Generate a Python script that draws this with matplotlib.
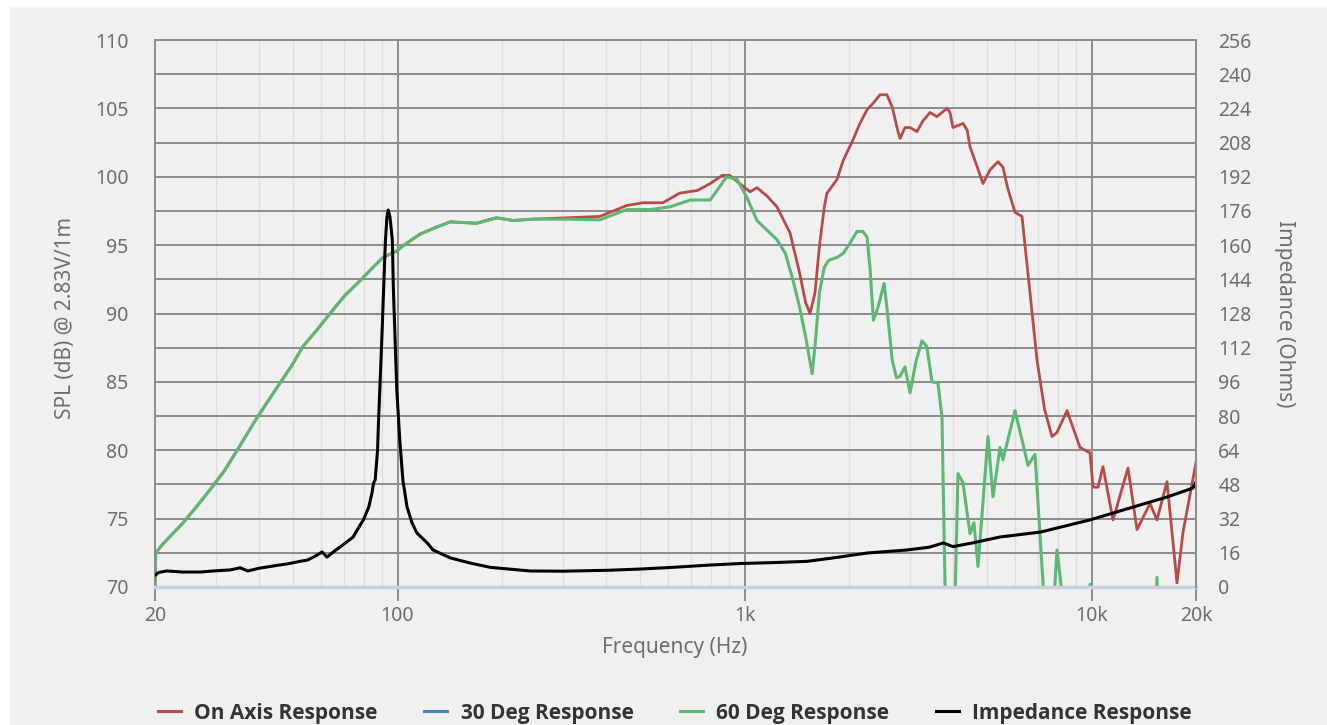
import matplotlib
matplotlib.use('Agg')
import matplotlib.pyplot as plt
from matplotlib.patches import Rectangle
from matplotlib.lines import Line2D
from matplotlib.font_manager import FontProperties
from matplotlib.ticker import FixedLocator, MultipleLocator, LogLocator, NullFormatter

plt.rcParams['font.family'] = ['Noto Sans', 'DejaVu Sans']

# Below ~250 Hz on-axis and 60 deg responses coincide (dB)
low_freq = [20, 20.1, 21.0, 24.1, 26.4, 29.2, 31.7, 34.5, 39.4, 45.8, 49.6, 53.4, 58.6, 63.9,
            70.4, 78, 84.4, 90.8, 100, 103, 116, 129, 142, 169, 193, 215, 245]
low_db = [70.0, 72.5, 73.1, 74.7, 75.9, 77.3, 78.5, 80.0, 82.4, 84.9, 86.2, 87.6, 88.8, 90.0,
          91.3, 92.4, 93.3, 94.1, 94.6, 94.9, 95.8, 96.3, 96.7, 96.6, 97.0, 96.8, 96.9]

# 60 degree response above 250 Hz (dB), values below 70 are clipped by the axis
deg60_hi_freq = [309, 383, 458, 534, 610, 698, 796, 850, 887, 952,
                 1015, 1086, 1160, 1240, 1311, 1380, 1440, 1500, 1566, 1596, 1643, 1698, 1750,
                 1847, 1925, 2020, 2108, 2193, 2254, 2298, 2352, 2428, 2524, 2571, 2664,
                 2740, 2806, 2900, 2998, 3120, 3246, 3350, 3470, 3610, 3707,
                 3780, 3830, 3988, 4050, 4122, 4262, 4464, 4583, 4708, 5030, 5200, 5448, 5556,
                 6018, 6560, 6872, 7246, 7400, 7750, 7950, 8274, 8400, 9700, 9900, 10100,
                 15100, 15438, 15700, 20000]
deg60_hi_db = [96.9, 96.85, 97.6, 97.6, 97.8, 98.3, 98.3, 99.3, 100.0, 99.8,
               98.5, 96.8, 96.1, 95.4, 94.4, 92.4, 90.5, 88.3, 85.6, 87.6, 91.5, 93.4, 93.9,
               94.1, 94.4, 95.2, 96.0, 96.0, 95.6, 93.4, 89.5, 90.5, 92.2, 90.5, 86.6,
               85.3, 85.4, 86.1, 84.2, 86.5, 88.0, 87.6, 85.0, 84.9, 82.4,
               70.5, 65.0, 65.0, 70.0, 78.3, 77.6, 73.9, 74.7, 71.5, 81.0, 76.6, 80.2, 79.3,
               82.9, 78.9, 79.7, 70.3, 65.0, 68.0, 72.7, 69.0, 65.0, 65.0, 70.2, 65.0,
               65.0, 70.7, 65.0, 65.0]

# On axis response above 250 Hz (dB)
onaxis_hi_freq = [309, 383, 458, 510, 582, 650, 732, 796, 862, 906,
                  990, 1038, 1086, 1160, 1240, 1352, 1440, 1500, 1544, 1596, 1643, 1698, 1727,
                  1847, 1925, 2054, 2150, 2254, 2352, 2457, 2571, 2664, 2762, 2806, 2900, 2998,
                  3140, 3268, 3424, 3586, 3832, 3908, 3988, 4262, 4382, 4464, 4686, 4866, 5096,
                  5376, 5556, 5728, 6018, 6303, 6964, 7320, 7692, 7950, 8497, 8830, 9264, 9898,
                  10100, 10438, 10790, 11532, 12736, 13522, 14738, 15438, 16496, 17630, 18346, 20000]
onaxis_hi_db = [97.0, 97.1, 97.9, 98.1, 98.1, 98.8, 99.0, 99.5, 100.1, 100.1,
                99.3, 98.9, 99.2, 98.6, 97.8, 95.9, 93.0, 90.8, 90.0, 91.5, 94.9, 97.8, 98.8,
                99.8, 101.2, 102.7, 103.9, 104.9, 105.4, 106.0, 106.0, 105.1, 103.4, 102.8, 103.6, 103.6,
                103.3, 104.1, 104.7, 104.4, 105.0, 104.7, 103.6, 103.9, 103.4, 102.2, 100.7, 99.5, 100.5,
                101.1, 100.7, 99.2, 97.4, 97.1, 86.6, 83.0, 81.0, 81.3, 82.9, 81.7, 80.2, 79.8,
                77.3, 77.3, 78.8, 74.9, 78.7, 74.2, 76.1, 74.9, 77.7, 70.3, 74.0, 79.1]

# 30 degree response: listed in the legend, no curve shown
deg30_freq = []
deg30_db = []

# Impedance (Ohms)
imp_freq = [20, 20.5, 21.6, 24, 27, 30, 33, 35.2, 37, 40, 43.7, 48.9, 52.3, 55, 58, 60.6, 62.6,
            66, 68.3, 74.5, 77.1, 79.7, 82.6, 84.4, 85.3, 86.2, 87.6, 88.1, 89.2, 90.3, 91.3,
            92.3, 93.2, 94.0, 95.1, 96.6, 97.3, 98.4, 99.5, 101.5, 103.6, 106.5, 110.1,
            113.7, 121.8, 126.6, 142, 162, 185, 241, 300, 400, 500, 622, 800, 975, 1200, 1512, 1800,
            2254, 2932, 3400, 3742, 3988, 4500, 5448, 7120, 9898, 13160, 16496, 19600, 20000]
imp_ohm = [5.5, 6.8, 7.5, 7.0, 7.0, 7.6, 8.0, 9.0, 7.5, 8.8, 9.8, 11.0, 12.0, 12.6, 14.5, 16.4, 14.0,
           17.0, 18.7, 23.4, 27.6, 31.4, 37.4, 44.0, 48.7, 50.1, 64.1, 76.8, 98.3, 120.3, 142.3,
           162.4, 173.2, 176.4, 173.2, 162.4, 139.0, 115.6, 92.2, 68.8, 50.1, 37.4, 30.0,
           25.3, 20.6, 17.3, 13.6, 11.2, 9.2, 7.5, 7.4, 7.8, 8.4, 9.2, 10.3, 11.0, 11.4, 12.0, 13.6,
           15.9, 17.3, 18.6, 20.6, 18.9, 20.5, 23.4, 25.7, 31.4, 37.4, 42.1, 46.3, 49.1]

xtick_vals = [20, 100, 1000, 10000, 20000]
xtick_text = ['20', '100', '1k', '10k', '20k']

BG = '#f0f0f0'
GRID = '#8c8c8c'
TXT = '#6e6e6e'
RED = '#b84a48'
BLUE = '#4f81bd'
GREEN = '#5cb874'

fig = plt.figure(figsize=(13.27, 7.25), dpi=100)
fig.patch.set_facecolor('white')
fig.add_artist(Rectangle((10 / 1327, 0), 1, 1 - 7 / 725, transform=fig.transFigure,
                         facecolor=BG, edgecolor='none', zorder=-10))

ax = fig.add_axes([155 / 1327, 1 - 587 / 725, (1196 - 155) / 1327, (587 - 40) / 725])
ax.set_facecolor(BG)
ax.set_xscale('log')
ax.set_xlim(20, 20000)
ax.set_ylim(70, 110)

ax.plot(low_freq + onaxis_hi_freq, low_db + onaxis_hi_db, color=RED, lw=2.0,
        solid_joinstyle='round')
ax.plot(deg30_freq, deg30_db, color=BLUE, lw=2.0)
ax.plot(low_freq + deg60_hi_freq, low_db + deg60_hi_db, color=GREEN, lw=2.2,
        solid_joinstyle='round')

ax.xaxis.set_major_locator(FixedLocator(xtick_vals))
ax.set_xticklabels(xtick_text)
ax.xaxis.set_minor_locator(LogLocator(base=10, subs=range(2, 10)))
ax.xaxis.set_minor_formatter(NullFormatter())
ax.yaxis.set_major_locator(MultipleLocator(5))
ax.yaxis.set_minor_locator(MultipleLocator(2.5))

ax.grid(which='major', axis='x', color=GRID, lw=1.4)
ax.grid(which='minor', axis='x', color='#dedede', lw=1.0)
ax.grid(which='both', axis='y', color=GRID, lw=1.4)

ax.tick_params(axis='x', which='major', length=10, width=1.4, color=GRID,
               labelsize=14, labelcolor=TXT, pad=4)
ax.tick_params(axis='both', which='minor', length=0)
ax.tick_params(axis='y', which='major', length=0, labelsize=14, labelcolor=TXT, pad=19)

for side in ['left', 'top']:
    ax.spines[side].set_color(GRID)
    ax.spines[side].set_linewidth(1.4)
ax.spines['right'].set_visible(False)
ax.spines['bottom'].set_color('#c9d1df')
ax.spines['bottom'].set_linewidth(2.5)

ax2 = ax.twinx()
ax2.set_ylim(0, 256)
ax2.set_yticks(range(0, 257, 16))
ax2.plot(imp_freq, imp_ohm, color='black', lw=2.2, solid_joinstyle='round')
ax2.tick_params(axis='y', length=0, labelsize=14, labelcolor=TXT, pad=16)
for side in ['left', 'top', 'bottom']:
    ax2.spines[side].set_visible(False)
ax2.spines['right'].set_color(GRID)
ax2.spines['right'].set_linewidth(1.4)

fig.text(65 / 1327, 1 - 318 / 725, 'SPL (dB) @ 2.83V/1m', rotation=90,
         ha='center', va='center', fontsize=15, color=TXT)
fig.text(1285 / 1327, 1 - 314 / 725, 'Impedance (Ohms)', rotation=270,
         ha='center', va='center', fontsize=15, color=TXT)
fig.text(675 / 1327, 1 - 648 / 725, 'Frequency (Hz)',
         ha='center', va='center', fontsize=15, color=TXT)

handles = [Line2D([], [], color=RED, lw=2.2), Line2D([], [], color=BLUE, lw=2.2),
           Line2D([], [], color=GREEN, lw=2.2), Line2D([], [], color='black', lw=2.2)]
labels = ['On Axis Response', '30 Deg Response', '60 Deg Response', 'Impedance Response']
legend_font = FontProperties(family=['Open Sans', 'DejaVu Sans'], weight='bold', size=15)
fig.legend(handles, labels, loc='center', bbox_to_anchor=(675 / 1327, 1 - 713 / 725),
           ncol=4, frameon=False, prop=legend_font, labelcolor='#333333',
           handlelength=1.1, handletextpad=0.63, columnspacing=2.25)

fig.savefig('out.png', dpi=100, facecolor=fig.get_facecolor())
